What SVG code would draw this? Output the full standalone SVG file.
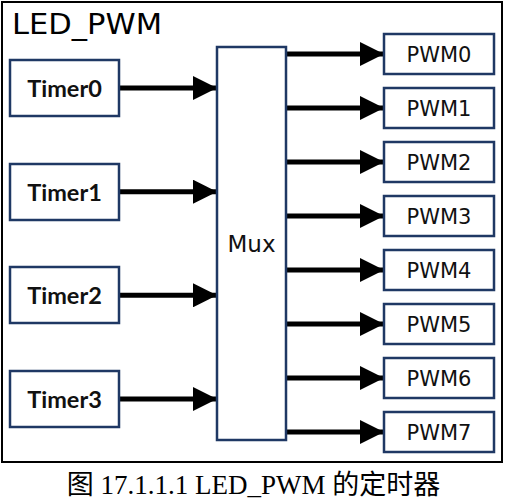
<svg xmlns="http://www.w3.org/2000/svg" width="506" height="504" viewBox="0 0 506 504">
<style>
.box{fill:#fff;stroke:#1f3864;stroke-width:2.5}
.tl{font-family:Lato,"Open Sans",sans-serif;font-weight:bold;font-size:23.5px;fill:#111;text-anchor:middle}
.pl{font-family:"DejaVu Sans",sans-serif;font-size:21px;fill:#111;text-anchor:middle}
.ar{stroke:#000;stroke-width:5;fill:none}
</style>
<defs>
<marker id="ah" markerUnits="userSpaceOnUse" markerWidth="24" markerHeight="24" refX="24" refY="12" orient="auto" viewBox="0 0 24 24">
<path d="M0,0 L24,12 L0,24 Z" fill="#000"/>
</marker>
</defs>
<rect x="2" y="2" width="500" height="460" fill="#fff" stroke="#000" stroke-width="2"/>
<text x="12" y="34" font-family="DejaVu Sans,sans-serif" font-size="28" fill="#000" textLength="150" lengthAdjust="spacingAndGlyphs">LED_PWM</text>
<g id="connectors">
<line class="ar" x1="119" y1="88" x2="217" y2="88" marker-end="url(#ah)"/>
<line class="ar" x1="119" y1="191.7" x2="217" y2="191.7" marker-end="url(#ah)"/>
<line class="ar" x1="119" y1="295.3" x2="217" y2="295.3" marker-end="url(#ah)"/>
<line class="ar" x1="119" y1="399" x2="217" y2="399" marker-end="url(#ah)"/>
<line class="ar" x1="286" y1="54" x2="384" y2="54" marker-end="url(#ah)"/>
<line class="ar" x1="286" y1="108" x2="384" y2="108" marker-end="url(#ah)"/>
<line class="ar" x1="286" y1="162" x2="384" y2="162" marker-end="url(#ah)"/>
<line class="ar" x1="286" y1="216" x2="384" y2="216" marker-end="url(#ah)"/>
<line class="ar" x1="286" y1="270" x2="384" y2="270" marker-end="url(#ah)"/>
<line class="ar" x1="286" y1="324" x2="384" y2="324" marker-end="url(#ah)"/>
<line class="ar" x1="286" y1="378" x2="384" y2="378" marker-end="url(#ah)"/>
<line class="ar" x1="286" y1="432" x2="384" y2="432" marker-end="url(#ah)"/>
</g>
<g id="timer0"><rect class="box" x="10" y="60" width="109" height="56"/><text class="tl" x="64.5" y="96.5">Timer0</text></g>
<g id="timer1"><rect class="box" x="10" y="164" width="109" height="56"/><text class="tl" x="64.5" y="200.5">Timer1</text></g>
<g id="timer2"><rect class="box" x="10" y="267" width="109" height="56"/><text class="tl" x="64.5" y="303.5">Timer2</text></g>
<g id="timer3"><rect class="box" x="10" y="371" width="109" height="56"/><text class="tl" x="64.5" y="407.5">Timer3</text></g>
<g id="mux"><rect class="box" x="217" y="47" width="69" height="393"/><text x="251.5" y="252" font-family="DejaVu Sans,sans-serif" font-size="23" fill="#111" text-anchor="middle">Mux</text></g>
<g id="pwm0"><rect class="box" x="384" y="34" width="110" height="40"/><text class="pl" x="439" y="61.5">PWM0</text></g>
<g id="pwm1"><rect class="box" x="384" y="88" width="110" height="40"/><text class="pl" x="439" y="115.5">PWM1</text></g>
<g id="pwm2"><rect class="box" x="384" y="142" width="110" height="40"/><text class="pl" x="439" y="169.5">PWM2</text></g>
<g id="pwm3"><rect class="box" x="384" y="196" width="110" height="40"/><text class="pl" x="439" y="223.5">PWM3</text></g>
<g id="pwm4"><rect class="box" x="384" y="250" width="110" height="40"/><text class="pl" x="439" y="277.5">PWM4</text></g>
<g id="pwm5"><rect class="box" x="384" y="304" width="110" height="40"/><text class="pl" x="439" y="331.5">PWM5</text></g>
<g id="pwm6"><rect class="box" x="384" y="358" width="110" height="40"/><text class="pl" x="439" y="385.5">PWM6</text></g>
<g id="pwm7"><rect class="box" x="384" y="412" width="110" height="40"/><text class="pl" x="439" y="439.5">PWM7</text></g>
<text x="253.5" y="494" font-family="Liberation Serif,Noto Sans CJK SC,serif" font-size="27" fill="#000" text-anchor="middle">图 17.1.1.1 LED_PWM 的定时器</text>
</svg>
